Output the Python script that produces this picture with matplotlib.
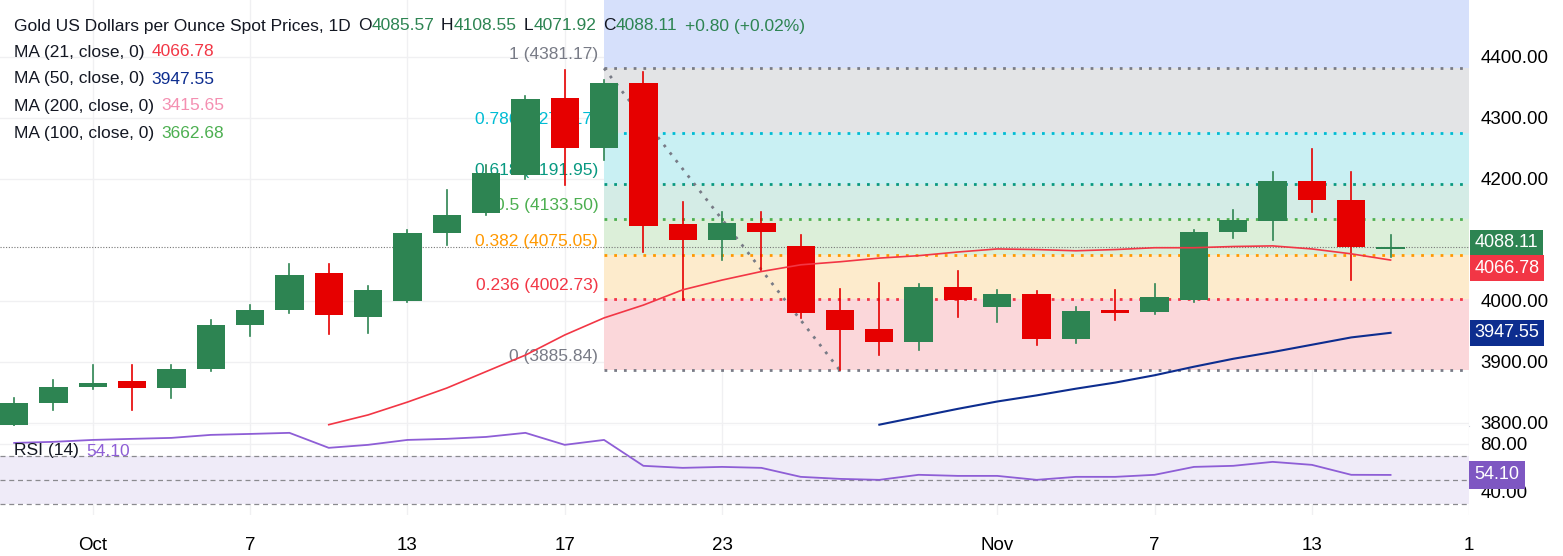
import numpy as np
import matplotlib.pyplot as plt

plt.rcParams['font.family'] = ['Liberation Sans', 'DejaVu Sans']

# daily OHLC, Sep 29 .. Nov 17 (trading days)
opens = [3797, 3833, 3859, 3868, 3857, 3888, 3961, 3985, 4046, 3974, 4000, 4111, 4144, 4206,
         4333, 4251, 4357, 4126, 4100, 4128, 4090, 3985, 3954, 3933, 4023, 3990, 4011, 3938,
         3985, 3982, 4002, 4113, 4130, 4197, 4166, 4085.57]
highs = [3840, 3870, 3895, 3895, 3895, 3969, 3993, 4061, 4060, 4025, 4116, 4182, 4223, 4335,
         4378, 4362, 4375, 4162, 4146, 4146, 4108, 4020, 4030, 4028, 4049, 4018, 4016, 3990,
         4018, 4028, 4116, 4149, 4211, 4248, 4211, 4108.55]
lows = [3790, 3821, 3855, 3821, 3841, 3885, 3943, 3980, 3946, 3948, 3998, 4092, 4140, 4200,
        4190, 4230, 4080, 4002, 4067, 4051, 3972, 3887, 3911, 3920, 3974, 3966, 3928, 3931,
        3969, 3978, 3998, 4103, 4100, 4146, 4034, 4071.92]
closes = [3833, 3859, 3866, 3857, 3888, 3961, 3985, 4043, 3977, 4018, 4111, 4141, 4210, 4330,
          4251, 4357, 4123, 4100, 4128, 4113, 3980, 3952, 3933, 4023, 4002, 4011, 3938, 3984,
          3980, 4007, 4113, 4133, 4197, 4166, 4089, 4088.11]

ma21_idx = list(range(8, 36))
ma21 = [3797, 3813, 3834, 3857, 3884, 3911, 3944, 3972, 3993, 4018, 4034, 4048, 4059, 4064,
        4070, 4074, 4080, 4085, 4084, 4082, 4084, 4087, 4087, 4089, 4090, 4085, 4077, 4066.78]
ma50_idx = list(range(22, 36))
ma50 = [3797, 3810, 3823, 3835, 3845, 3856, 3866, 3878, 3892, 3905, 3916, 3928, 3940, 3947.55]

rsi = [80.8, 81.7, 83.3, 84.2, 85.0, 87.5, 88.3, 89.2, 76.7, 79.2, 83.3, 84.2, 85.8, 89.2,
       79.2, 83.3, 61.7, 60.0, 60.8, 60.0, 52.5, 50.8, 50.0, 54.2, 53.3, 53.3, 50.0, 52.5,
       52.5, 54.2, 60.8, 61.7, 65.0, 62.5, 54.2, 54.1]

fib_ratios = [1, 0.786, 0.618, 0.5, 0.382, 0.236, 0]
fib_prices = [4381.17, 4275.17, 4191.95, 4133.50, 4075.05, 4002.73, 3885.84]
fib_line_colors = ['#787b86', '#00bcd4', '#089981', '#4caf50', '#ff9800', '#f23645', '#787b86']
fib_fill_colors = ['#e3e4e6', '#c9f0f3', '#d4ece6', '#dcefd9', '#fdebcc', '#fbd7da']

tick_pos = [2, 6, 10, 14, 18, 25, 29, 33, 37]
tick_lab = ['Oct', '7', '13', '17', '23', 'Nov', '7', '13', '1']

GREEN, RED = '#2d8452', '#e60000'
x0, x1 = -0.36, 37.0

fig = plt.figure(figsize=(15.63, 5.56), dpi=100)
ax = fig.add_axes([0, 0.234, 0.94, 0.766])
ar = fig.add_axes([0, 0.074, 0.94, 0.16], sharex=ax)

# fib area
fx = 15
ax.axhspan(fib_prices[0], 4600, xmin=(fx - x0) / (x1 - x0), color='#d6e0fb', lw=0)
for i in range(6):
    ax.fill_between([fx, x1], fib_prices[i + 1], fib_prices[i], color=fib_fill_colors[i], lw=0)
for r, p, c in zip(fib_ratios, fib_prices, fib_line_colors):
    ax.plot([fx, x1], [p, p], color=c, lw=2, ls=(0, (1, 2.5)))
    ax.text(fx - 0.15, p + 10, f'{r} ({p:.2f})', color=c, fontsize=12.5, ha='right', va='bottom',
            zorder=2)
ax.plot([fx, 21], [fib_prices[0], fib_prices[-1]], color='#787b86', lw=2, ls=(0, (1, 2.5)))

ax.axhline(4088.11, color='#777777', lw=0.8, ls=(0, (1, 1.5)))

for i in range(len(opens)):
    o, h, l, c = opens[i], highs[i], lows[i], closes[i]
    col = GREEN if c >= o else RED
    ax.plot([i, i], [l, h], color=col, lw=1.2, zorder=3)
    bot, top = min(o, c), max(o, c)
    ax.bar(i, max(top - bot, 1.5), bottom=bot, width=0.72, color=col, zorder=4)

ax.plot(ma21_idx, ma21, color='#f23645', lw=1.2, zorder=5)
ax.plot(ma50_idx, ma50, color='#0d2d8f', lw=1.5, zorder=5)

ax.set_xlim(x0, x1)
ax.set_ylim(3795, 4493)
ax.set_yticks([3800, 3900, 4000, 4200, 4300, 4400])
ax.yaxis.tick_right()
ax.set_yticklabels([f'{v:.2f}' for v in ax.get_yticks()], fontsize=13.5)
ax.tick_params(axis='y', length=0, pad=8)
ax.tick_params(axis='x', labelbottom=False, length=0)
ax.set_xticks(tick_pos)
ax.grid(color='#f0f0f2', lw=1)
ax.set_axisbelow(True)
for s in ax.spines.values():
    s.set_visible(False)
ax.spines['bottom'].set_visible(True)
ax.spines['bottom'].set_color('#d1d4dc')

for val, col, dy in [(4088.11, '#2d8452', 3), (4066.78, '#f23645', -6), (3947.55, '#0d2d8f', 0)]:
    ax.annotate(f'{val:.2f}', xy=(1.0, val), xycoords=('axes fraction', 'data'),
                xytext=(4, dy), textcoords='offset points',
                va='center', ha='left', color='white', fontsize=13,
                bbox=dict(boxstyle='square,pad=0.25', fc=col, ec='none'), zorder=10,
                annotation_clip=False)

# RSI
ar.axhspan(30, 70, color='#efebf8', lw=0)
for lvl in (70, 50, 30):
    ar.axhline(lvl, color='#8a8a8f', lw=0.9, ls=(0, (4, 3)))
ar.plot(range(len(rsi)), rsi, color='#8e5ed6', lw=1.3)
ar.set_ylim(20.8, 95)
ar.set_yticks([40, 80])
ar.yaxis.tick_right()
ar.set_yticklabels(['40.00', '80.00'], fontsize=13.5)
ar.tick_params(axis='y', length=0, pad=8)
ar.set_xticks(tick_pos)
ar.set_xticklabels(tick_lab, fontsize=13.5)
ar.tick_params(axis='x', length=0, pad=16)
ar.grid(color='#f0f0f2', lw=1)
ar.set_axisbelow(True)
for s in ar.spines.values():
    s.set_visible(False)
ar.annotate('54.10', xy=(1.0, 54.1), xycoords=('axes fraction', 'data'),
            xytext=(4, 0), textcoords='offset points', va='center',
            ha='left', color='white', fontsize=13,
            bbox=dict(boxstyle='square,pad=0.3', fc='#7e57c2', ec='none'), annotation_clip=False)

# legend header, pieces chained left to right
W, H = 1563, 556
renderer = fig.canvas.get_renderer()

def chain(x, y, parts, size=12.5):
    for s, c, gap in parts:
        t = fig.text(x / W, 1 - y / H, s, color=c, fontsize=size, va='center')
        x += t.get_window_extent(renderer).width + gap

dark, g = '#131722', '#2d8452'
chain(14, 26, [('Gold US Dollars per Ounce Spot Prices, 1D', dark, 7),
               ('O', dark, 0), ('4085.57', g, 7), ('H', dark, 0), ('4108.55', g, 7),
               ('L', dark, 0), ('4071.92', g, 7), ('C', dark, 0), ('4088.11', g, 8),
               ('+0.80 (+0.02%)', g, 0)])
ma_rows = [('MA (21, close, 0)', '4066.78', '#f23645'),
           ('MA (50, close, 0)', '3947.55', '#0d2d8f'),
           ('MA (200, close, 0)', '3415.65', '#f48fb1'),
           ('MA (100, close, 0)', '3662.68', '#4caf50')]
for k, (lab, val, col) in enumerate(ma_rows):
    chain(14, 52 + 27 * k, [(lab, dark, 7), (val, col, 0)])
chain(14, 451, [('RSI (14)', dark, 7), ('54.10', '#8e5ed6', 0)])

fig.savefig('out.png', dpi=100)
